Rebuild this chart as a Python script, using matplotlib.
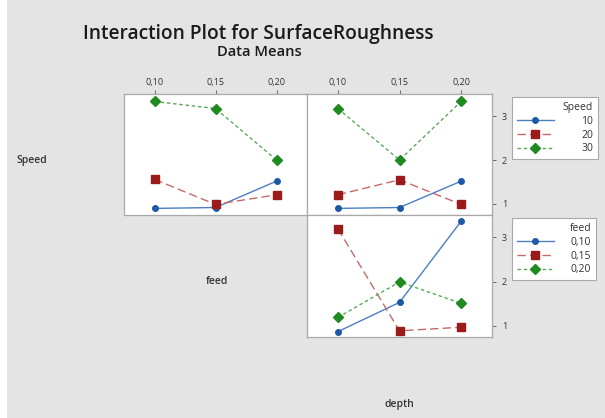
import matplotlib
matplotlib.use("Agg")
import matplotlib.pyplot as plt
from matplotlib.patches import Rectangle

# levels on the x axis (feed and depth share the same levels)
levels = [0.10, 0.15, 0.20]
level_labels = ["0,10", "0,15", "0,20"]
speed_names = ["10", "20", "30"]
feed_names = ["0,10", "0,15", "0,20"]

# Speed x feed means
sf_speed10 = [0.90, 0.92, 1.52]
sf_speed20 = [1.56, 0.99, 1.21]
sf_speed30 = [3.33, 3.17, 2.00]

# Speed x depth means
sd_speed10 = [0.90, 0.92, 1.52]
sd_speed20 = [1.21, 1.55, 0.99]
sd_speed30 = [3.17, 2.00, 3.33]

# feed x depth means
fd_feed010 = [0.87, 1.53, 3.36]
fd_feed015 = [3.19, 0.89, 0.97]
fd_feed020 = [1.19, 1.99, 1.51]

plt.rcParams["font.family"] = ["Open Sans", "DejaVu Sans"]

bg = "#e4e4e4"
edge = "#a9a9a9"
line_cols = ["#4a7fc4", "#c46a6a", "#5aa85a"]
mark_cols = ["#1d5aa6", "#9b1b1b", "#1f8a1f"]
styles = [dict(ls="-", marker="o", ms=4),
          dict(ls=(0, (6, 3)), marker="s", ms=5.5),
          dict(ls=(0, (2.5, 2)), marker="D", ms=5)]

fig = plt.figure(figsize=(6.05, 4.18), dpi=100, facecolor=bg)
fig.patches.append(Rectangle((0, 0), 7 / 605, 1, transform=fig.transFigure,
                             facecolor="white", edgecolor="none", zorder=-1))

ax1 = fig.add_axes([124 / 605, 1 - 215 / 418, 183 / 605, 121 / 418])
ax2 = fig.add_axes([307 / 605, 1 - 215 / 418, 185 / 605, 121 / 418])
ax3 = fig.add_axes([307 / 605, 1 - 337 / 418, 185 / 605, 122 / 418])


def draw(ax, series, names):
    handles = []
    for vals, lc, mc, st, nm in zip(series, line_cols, mark_cols, styles, names):
        h, = ax.plot(levels, vals, color=lc, lw=1.0, ls=st["ls"], marker=st["marker"],
                     ms=st["ms"], mfc=mc, mec=mc, label=nm)
        handles.append(h)
    ax.set_xlim(0.075, 0.225)
    ax.set_ylim(0.75, 3.5)
    ax.set_facecolor("white")
    for s in ax.spines.values():
        s.set_color(edge)
        s.set_linewidth(0.9)
    ax.tick_params(colors="#555555", labelcolor="#333333", labelsize=6.5,
                   length=3, width=0.6)
    return handles


h_speed = draw(ax1, [sf_speed10, sf_speed20, sf_speed30], speed_names)
draw(ax2, [sd_speed10, sd_speed20, sd_speed30], speed_names)
h_feed = draw(ax3, [fd_feed010, fd_feed015, fd_feed020], feed_names)

for ax in (ax1, ax2):
    ax.xaxis.tick_top()
    ax.set_xticks(levels)
    ax.set_xticklabels(level_labels)
    ax.tick_params(axis="x", pad=2)
ax3.set_xticks([])
ax1.set_yticks([])
for ax in (ax2, ax3):
    ax.yaxis.tick_right()
    ax.set_yticks([1, 2, 3])
    ax.tick_params(axis="y", pad=4)

fig.text(258 / 605, 1 - 34 / 418, "Interaction Plot for SurfaceRoughness",
         ha="center", va="center", fontsize=13.8, weight="semibold", color="#1a1a1a")
fig.text(259 / 605, 1 - 52 / 418, "Data Means", ha="center", va="center",
         fontsize=10.6, weight="semibold", color="#1a1a1a")
fig.text(32 / 605, 1 - 161 / 418, "Speed", ha="center", va="center",
         fontsize=7.5, weight="semibold", color="#333333")
fig.text(217 / 605, 1 - 282 / 418, "feed", ha="center", va="center",
         fontsize=7.5, weight="semibold", color="#333333")
fig.text(399 / 605, 1 - 404 / 418, "depth", ha="center", va="center",
         fontsize=7.5, weight="semibold", color="#333333")

leg_kw = dict(loc="upper left", fontsize=7.5, title_fontsize=7.5, alignment="right",
              handlelength=3.6, borderpad=0.45, labelspacing=0.28,
              borderaxespad=0, frameon=True, fancybox=False, edgecolor=edge,
              facecolor="white", framealpha=1)
leg1 = fig.legend(handles=h_speed, title="Speed", handletextpad=2.6,
                  bbox_to_anchor=(512 / 605, 1 - 97 / 418), **leg_kw)
leg2 = fig.legend(handles=h_feed, title="feed", handletextpad=1.6,
                  bbox_to_anchor=(512 / 605, 1 - 218 / 418), **leg_kw)
for leg in (leg1, leg2):
    leg.get_frame().set_linewidth(0.8)
    for t in leg.get_texts():
        t.set_color("#333333")
    leg.get_title().set_color("#333333")

fig.savefig("out.png", dpi=100, facecolor=bg)
